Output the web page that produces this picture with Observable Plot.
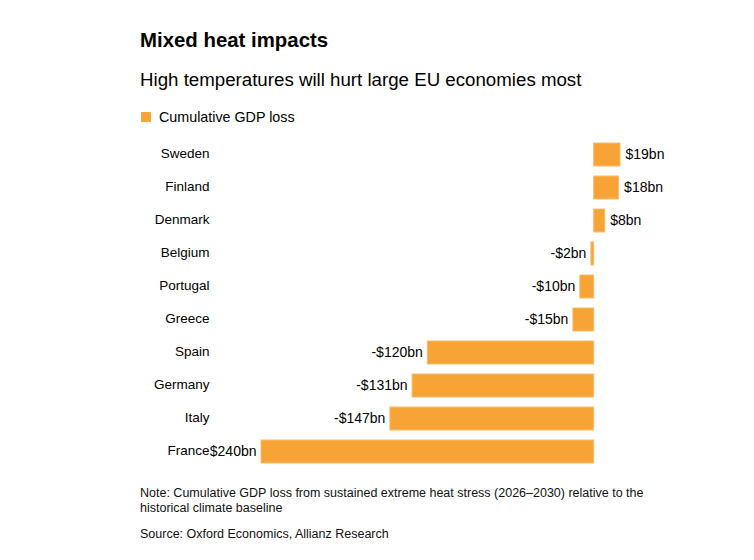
<!DOCTYPE html>
<html>
<head>
<meta charset="utf-8">
<script src="https://cdn.jsdelivr.net/npm/d3@7"></script>
<script src="https://cdn.jsdelivr.net/npm/@observablehq/plot@0.6"></script>
<style>
  body { margin: 0; background: #fff; font-family: "Liberation Sans", Arial, Helvetica, sans-serif; color: #000; }
  #wrap { position: relative; width: 754px; height: 560px; overflow: hidden; }
  .abs { position: absolute; left: 140px; }
  #title { top: 28px; font-size: 20.4px; line-height: 24px; font-weight: bold; }
  #subtitle { top: 69px; font-size: 18.7px; line-height: 22px; }
  #legend { top: 108px; font-size: 14.3px; line-height: 18px; display: flex; align-items: center; }
  #legend .sw { width: 10px; height: 10px; margin: 0 8px 0 1px; border-radius: 1px; }
  #chart { top: 137px; }
  #note { top: 485.5px; font-size: 12.5px; line-height: 15px; width: 540px; color: #111; }
  #source { top: 526.5px; font-size: 12.5px; line-height: 15px; color: #111; }
</style>
</head>
<body>
<div id="wrap">
  <div id="title" class="abs">Mixed heat impacts</div>
  <div id="subtitle" class="abs">High temperatures will hurt large EU economies most</div>
  <div id="legend" class="abs"><span class="sw"></span><span id="legend-label"></span></div>
  <div id="chart" class="abs"></div>
  <div id="note" class="abs">Note: Cumulative GDP loss from sustained extreme heat stress (2026–2030) relative to the historical climate baseline</div>
  <div id="source" class="abs">Source: Oxford Economics, Allianz Research</div>
</div>
<script>
// Cumulative GDP loss by country, $bn (positive = gain)
const countries = ["Sweden", "Finland", "Denmark", "Belgium", "Portugal", "Greece", "Spain", "Germany", "Italy", "France"];
const gdpLoss = [19, 18, 8, -2, -10, -15, -120, -131, -147, -240];
const seriesName = "Cumulative GDP loss";
const barColor = "#f7a335";

document.querySelector("#legend .sw").style.background = barColor;
document.getElementById("legend-label").textContent = seriesName;

const data = countries.map((country, i) => ({ country, value: gdpLoss[i] }));
const fmt = v => (v < 0 ? "-" : "") + "$" + Math.abs(v) + "bn";
const font = "'Liberation Sans', Arial, Helvetica, sans-serif";

const chart = Plot.plot({
  width: 530,
  height: 332,
  marginLeft: 121,
  marginRight: 50,
  marginTop: 0,
  marginBottom: 0,
  style: { fontFamily: font, fontSize: "13.5px", color: "#000", background: "transparent" },
  x: { domain: [-240, 19], axis: null },
  y: { domain: countries, paddingInner: 0.3, paddingOuter: 0.15, axis: null },
  marks: [
    Plot.barX(data, { x: "value", y: "country", fill: barColor, stroke: "#f9bd6e", strokeWidth: 1 }),
    Plot.text(data.filter(d => d.value >= 0), {
      x: "value", y: "country", text: d => fmt(d.value),
      textAnchor: "start", dx: 5, fill: "#000", fontSize: 14
    }),
    Plot.text(data.filter(d => d.value < 0), {
      x: "value", y: "country", text: d => fmt(d.value),
      textAnchor: "end", dx: -5, fill: "#000", fontSize: 14
    }),
    // country names sit on top of any long value label, with a white halo
    Plot.text(data, {
      y: "country", text: "country", frameAnchor: "left", dx: -52, dy: -1.5,
      textAnchor: "end", fill: "#000", stroke: "#fff", strokeWidth: 3, fontSize: 13.5
    })
  ]
});
document.getElementById("chart").appendChild(chart);
</script>
</body>
</html>
